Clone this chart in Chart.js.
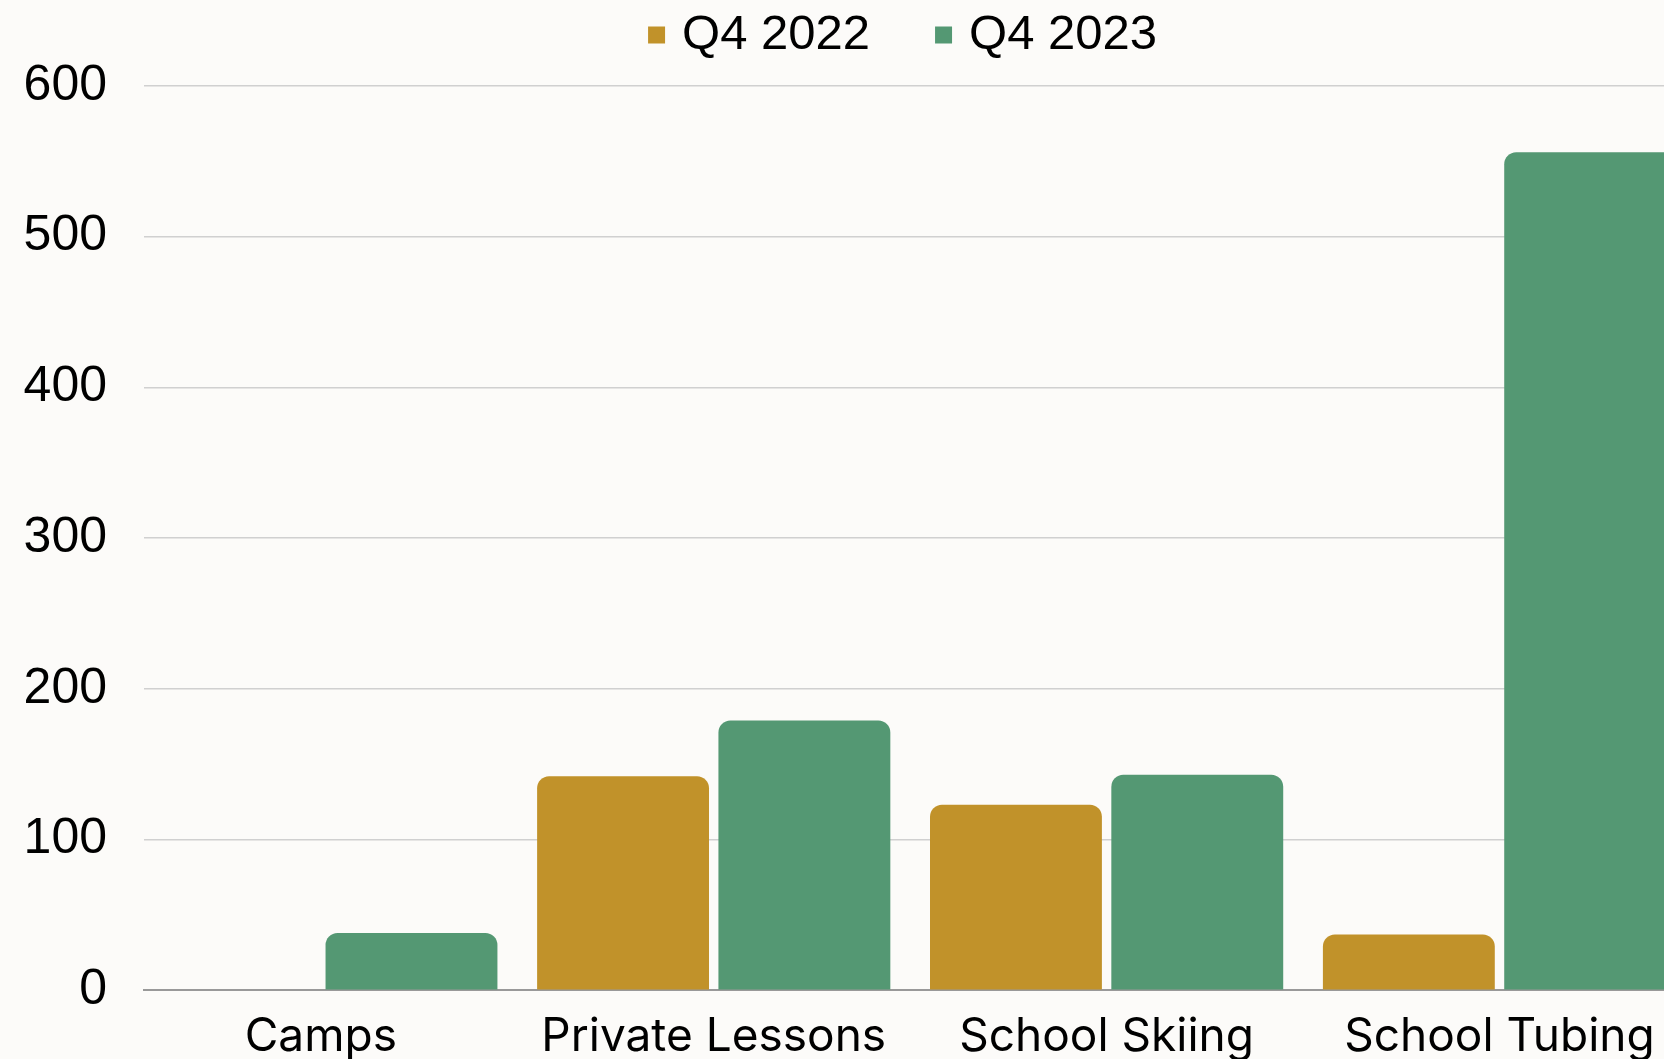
<!DOCTYPE html>
<html>
<head>
<meta charset="utf-8">
<script src="https://cdn.jsdelivr.net/npm/chart.js@4.4.0/dist/chart.umd.min.js"></script>
<style>
html,body{margin:0;padding:0;background:#fcfbf9;overflow:hidden;}
#wrap{width:1826px;height:1059px;position:relative;}
</style>
</head>
<body>
<div id="wrap"><canvas id="chart"></canvas></div>
<script>
const categories=['Camps','Private Lessons','School Skiing','School Tubing'];
const seriesNames=['Q4 2022','Q4 2023'];
const q4_2022=[0,142,123,37];
const q4_2023=[38,179,143,556];
const yTicks=[0,100,200,300,400,500,600];
const seriesColors=['#c1922a','#549873'];

const toPoints=vals=>vals.map((v,i)=>({x:i,y:v}));

// legend sits a bit higher than the plot top, so give it extra room below
const legendGap={
  id:'legendGap',
  beforeInit(chart){
    const fit=chart.legend.fit;
    chart.legend.fit=function(){ fit.call(this); this.height+=16.5; };
  }
};

new Chart(document.getElementById('chart'),{
  type:'bar',
  data:{
    datasets:[
      {label:seriesNames[0],data:toPoints(q4_2022),backgroundColor:seriesColors[0],pointStyle:'rect'},
      {label:seriesNames[1],data:toPoints(q4_2023),backgroundColor:seriesColors[1],pointStyle:'rect'}
    ]
  },
  options:{
    responsive:true,maintainAspectRatio:false,animation:false,
    layout:{padding:{top:-62,left:-13.4,right:0,bottom:-24.4}},
    datasets:{bar:{categoryPercentage:0.923,barPercentage:0.948,borderRadius:12,borderSkipped:'start'}},
    plugins:{
      legend:{position:'top',align:'center',
        labels:{font:{family:'"Liberation Sans", Arial, sans-serif',size:49},color:'#000',
          usePointStyle:true,pointStyle:'rect',boxHeight:17,boxWidth:2,padding:72.5}},
      tooltip:{enabled:false}
    },
    scales:{
      x:{type:'linear',min:-0.45,max:3.831,offset:false,
        grid:{display:true,drawOnChartArea:false,drawTicks:false},
        border:{display:true,color:'#999999',width:2},
        ticks:{stepSize:1,includeBounds:false,autoSkip:false,maxRotation:0,padding:19,color:'#000',
          font:{family:'Inter',size:46},callback:v=>categories[v]??''}},
      y:{min:yTicks[0],max:yTicks[yTicks.length-1],
        grid:{color:c=>c.tick&&c.tick.value===0?'rgba(0,0,0,0)':'#d0d0d0',lineWidth:1.5,drawTicks:false},
        border:{display:false},
        ticks:{stepSize:100,padding:37,color:'#000',font:{family:'"Liberation Sans", Arial, sans-serif',size:50}}}
    }
  },
  plugins:[legendGap]
});
</script>
</body>
</html>
